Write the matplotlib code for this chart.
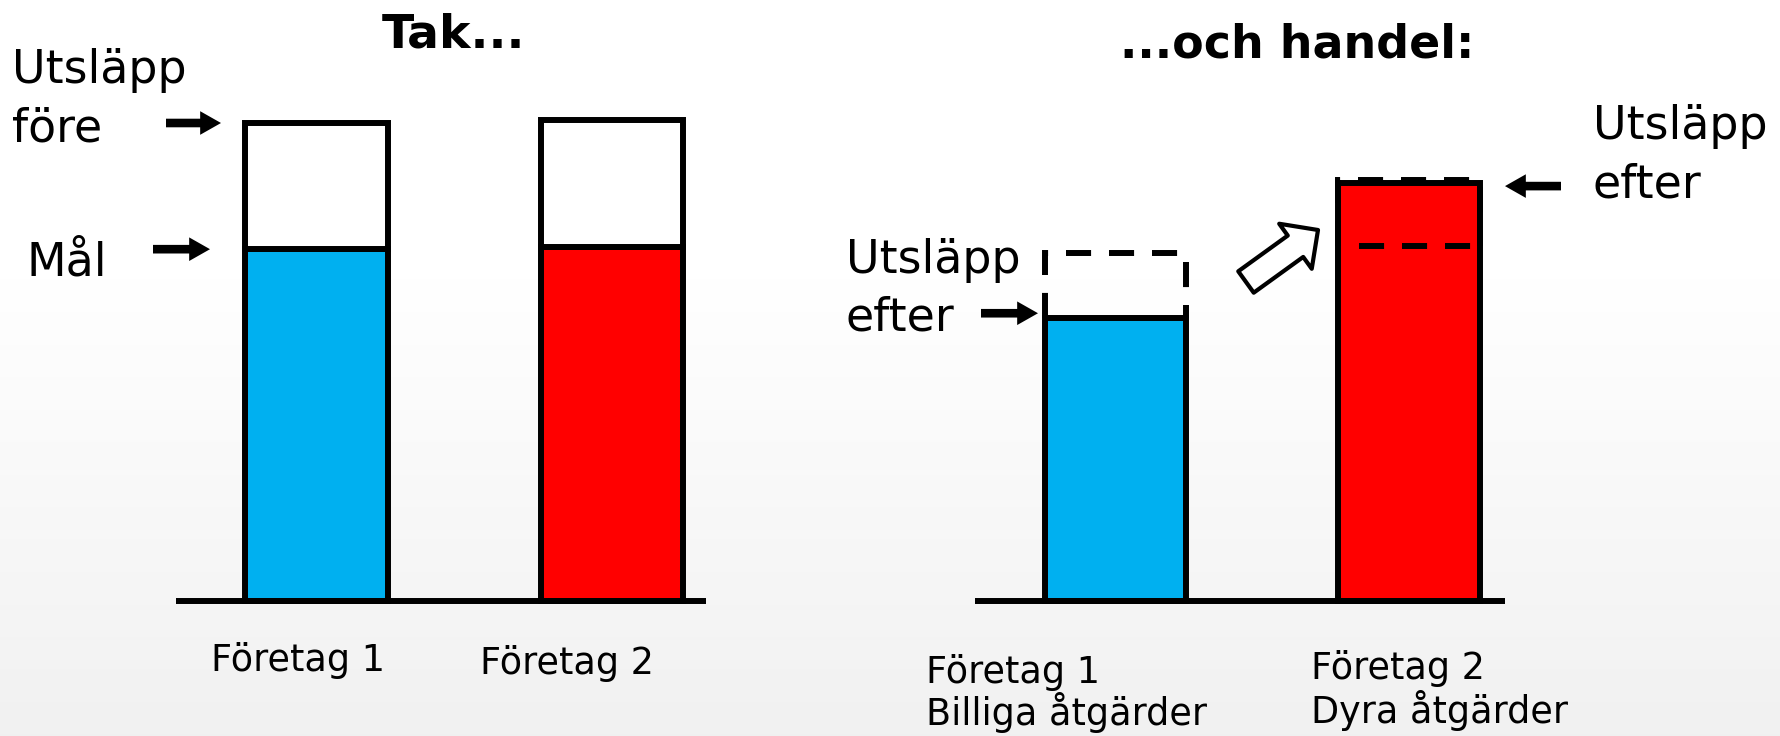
import numpy as np
import matplotlib
matplotlib.use("Agg")
import matplotlib.pyplot as plt

# ---------------- data ----------------
foretag = ["Företag 1", "Företag 2"]
atgarder = ["Billiga åtgärder", "Dyra åtgärder"]
utslapp_fore = [100.0, 100.6]     # emissions before (cap chart)
mal = [73.6, 74.1]                # target level
utslapp_efter = [59.2, 87.4]      # emissions after trading
mal_handel = [72.8, 74.3]         # target level shown dashed in trade chart
bar_colors = ["#00B0F0", "#FF0000"]

# ---------------- layout ----------------
W, H = 1781, 736
DPI = 100
BASE_PX = 601.0
PX_PER_UNIT = 4.78
LW = 4.3
BAR_W = 0.483
DASH = (0, (4.2, 3.0))

fig = plt.figure(figsize=(W / DPI, H / DPI), dpi=DPI)

# background gradient
bg = fig.add_axes([0, 0, 1, 1], zorder=-10)
bg.axis("off")
yy = np.linspace(0, 1, 400)[:, None]
shade = np.where(yy < 0.38, 1.0, 1.0 - 0.055 * ((yy - 0.38) / 0.62))
img = np.repeat(shade, 10, axis=1)
bg.imshow(np.dstack([img, img, img]), aspect="auto", extent=[0, 1, 0, 1],
          vmin=0, vmax=1, origin="upper")
bg.set_xlim(0, 1)
bg.set_ylim(0, 1)

ylim = (-(H - BASE_PX) / PX_PER_UNIT, BASE_PX / PX_PER_UNIT)


def make_axes(left_px, right_px, center0_px, unit_px):
    ax = fig.add_axes([left_px / W, 0, (right_px - left_px) / W, 1])
    ax.set_xlim((left_px - center0_px) / unit_px, (right_px - center0_px) / unit_px)
    ax.set_ylim(*ylim)
    ax.axis("off")
    ax.patch.set_alpha(0)
    return ax


ax_l = make_axes(176, 706, 316.5, 295.5)
ax_r = make_axes(975, 1505, 1115.5, 293.5)

x = np.arange(len(foretag))

# ---- left chart: Tak ----
ax_l.bar(x, mal, width=BAR_W, color=bar_colors, edgecolor="black", linewidth=LW)
ax_l.bar(x, np.subtract(utslapp_fore, mal), bottom=mal, width=BAR_W,
         color="white", edgecolor="black", linewidth=LW)
ax_l.axhline(0, color="black", linewidth=LW, solid_capstyle="butt", zorder=3)

# ---- right chart: handel ----
ax_r.bar(x, utslapp_efter, width=BAR_W, color=bar_colors, edgecolor="black", linewidth=LW)
ax_r.axhline(0, color="black", linewidth=LW, solid_capstyle="butt", zorder=3)

# dashed box above company 1 (what it would have emitted)
x0 = x[0]
ax_r.plot([x0 - BAR_W / 2, x0 - BAR_W / 2, x0 + BAR_W / 2, x0 + BAR_W / 2],
          [utslapp_efter[0], mal_handel[0], mal_handel[0], utslapp_efter[0]],
          color="black", linewidth=LW, linestyle=DASH,
          dash_capstyle="butt", dash_joinstyle="miter", zorder=4)
# dashed target line and dashed outline on company 2
x1 = x[1]
ax_r.plot([x1 - BAR_W / 2 + 0.07, x1 + BAR_W / 2 - 0.03],
          [mal_handel[1], mal_handel[1]],
          color="black", linewidth=LW, linestyle=DASH, dash_capstyle="butt", zorder=4)
top2 = utslapp_efter[1] + 0.7
ax_r.plot([x1 - BAR_W / 2, x1 - BAR_W / 2, x1 + BAR_W / 2, x1 + BAR_W / 2],
          [mal_handel[1], top2, top2, mal_handel[1]],
          color="black", linewidth=LW, linestyle=DASH,
          dash_capstyle="butt", dash_joinstyle="miter", zorder=4)

# ---- arrows ----
solid = dict(arrowstyle="simple,head_length=15,head_width=17,tail_width=6.2",
             fc="black", ec="black", lw=0, shrinkA=0, shrinkB=0, mutation_scale=1)


def arrow(ax, tail_px, tip_px, y):
    ax.annotate("", xy=(tip_px, y), xycoords=("figure pixels", "data"),
                xytext=(tail_px, y), textcoords=("figure pixels", "data"),
                arrowprops=solid, annotation_clip=False)


arrow(ax_l, 166, 221, utslapp_fore[0])
arrow(ax_l, 153, 210, mal[0])
arrow(ax_r, 981, 1038, utslapp_efter[0] + 1.0)
arrow(ax_r, 1561, 1505, utslapp_efter[1] - 0.6)

hollow = dict(arrowstyle="simple,head_length=20,head_width=40,tail_width=19",
              fc="white", ec="black", lw=3.0, shrinkA=0, shrinkB=0, mutation_scale=1)
ax_r.annotate("", xy=(1318, H - 230), xycoords="figure pixels",
              xytext=(1246, H - 282), textcoords="figure pixels",
              arrowprops=hollow, annotation_clip=False)

# ---- texts ----
def ftext(px, py, s, **kw):
    fig.text(px / W, 1 - py / H, s, va="baseline", **kw)


BIG = 33
SMALL = 26.3
ftext(454, 48, "Tak...", ha="center", fontsize=34, fontweight="bold")
ftext(1297, 57, "...och handel:", ha="center", fontsize=33, fontweight="bold")

ftext(12, 83, "Utsläpp", ha="left", fontsize=BIG)
ftext(12, 142, "före", ha="left", fontsize=BIG)
ftext(27, 275, "Mål", ha="left", fontsize=BIG)

ftext(846, 273, "Utsläpp", ha="left", fontsize=BIG)
ftext(846, 330, "efter", ha="left", fontsize=BIG)
ftext(1593, 139, "Utsläpp", ha="left", fontsize=BIG)
ftext(1593, 197, "efter", ha="left", fontsize=BIG)

ftext(211, 671, foretag[0], ha="left", fontsize=SMALL)
ftext(480, 674, foretag[1], ha="left", fontsize=SMALL)
ftext(926, 683, foretag[0], ha="left", fontsize=SMALL)
ftext(926, 725, atgarder[0], ha="left", fontsize=SMALL)
ftext(1311, 679, foretag[1], ha="left", fontsize=SMALL)
ftext(1311, 723, atgarder[1], ha="left", fontsize=SMALL)

fig.savefig("out.png", dpi=DPI)
